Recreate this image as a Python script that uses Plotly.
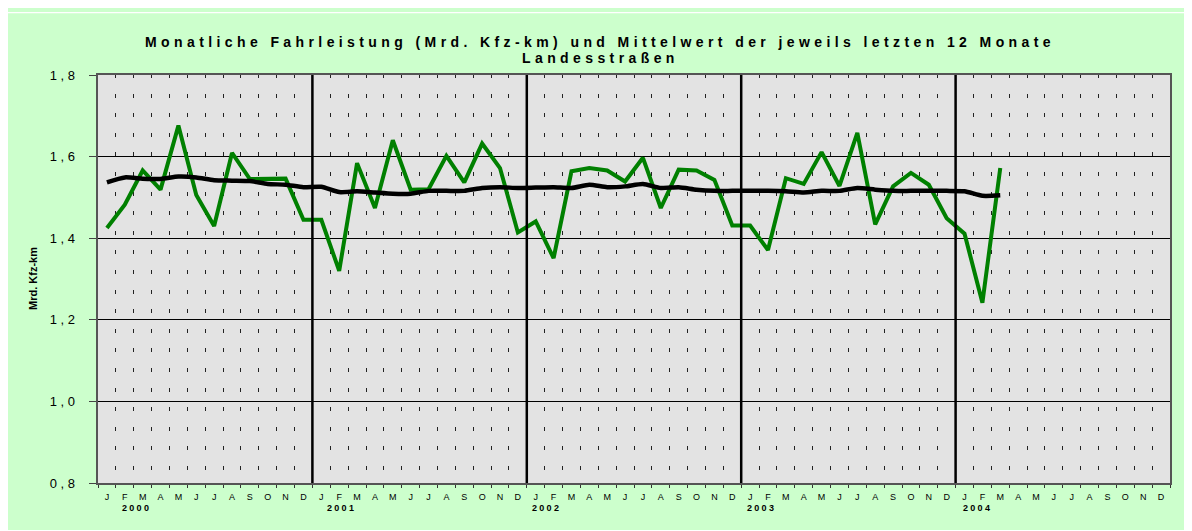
import plotly.graph_objects as go

# ---------------- data ----------------
month_letters = ["J", "F", "M", "A", "M", "J", "J", "A", "S", "O", "N", "D"]
years = ["2000", "2001", "2002", "2003", "2004"]

fahrleistung = [
    1.425, 1.482, 1.566, 1.519, 1.676, 1.506, 1.430, 1.609, 1.545, 1.545, 1.546, 1.445,
    1.445, 1.320, 1.584, 1.474, 1.640, 1.519, 1.520, 1.602, 1.537, 1.632, 1.572, 1.414,
    1.441, 1.351, 1.564, 1.572, 1.566, 1.539, 1.597, 1.474, 1.568, 1.566, 1.543, 1.431,
    1.431, 1.371, 1.547, 1.533, 1.611, 1.528, 1.658, 1.434, 1.527, 1.560, 1.531, 1.449,
    1.411, 1.242, 1.572,
]
mittelwert = [
    1.537, 1.549, 1.546, 1.545, 1.551, 1.549, 1.542, 1.541, 1.540, 1.533, 1.531, 1.525,
    1.526, 1.513, 1.515, 1.512, 1.509, 1.509, 1.516, 1.516, 1.516, 1.523, 1.525, 1.523,
    1.524, 1.525, 1.523, 1.531, 1.525, 1.527, 1.533, 1.523, 1.525, 1.519, 1.516, 1.516,
    1.516, 1.516, 1.515, 1.512, 1.516, 1.516, 1.523, 1.519, 1.516, 1.516, 1.516, 1.516,
    1.515, 1.504, 1.505,
]
y_tick_vals = [0.8, 1.0, 1.2, 1.4, 1.6, 1.8]
y_tick_text = ["0,8", "1,0", "1,2", "1,4", "1,6", "1,8"]

title_line1 = "Monatliche Fahrleistung (Mrd. Kfz-km) und Mittelwert der jeweils letzten 12 Monate"
title_line2 = "Landesstraßen"
y_title = "Mrd. Kfz-km"

# year label horizontal offsets (in month units from axis start)
year_label_x = [1.23, 12.71, 24.16, 36.23, 48.3]

# ---------------- figure ----------------
FONT = "Liberation Sans, Arial, sans-serif"
n_months = len(years) * 12
x_centers = [i + 0.5 for i in range(n_months)]
month_text = month_letters * len(years)


def spaced(t, px):
    return f'<span style="letter-spacing:{px}px">{t}</span>'


fig = go.Figure()
fig.add_trace(go.Scatter(
    x=x_centers[:len(fahrleistung)], y=fahrleistung, mode="lines",
    line=dict(color="#008000", width=4), showlegend=False, hoverinfo="skip"))
fig.add_trace(go.Scatter(
    x=x_centers[:len(mittelwert)], y=mittelwert, mode="lines",
    line=dict(color="#000000", width=4.5, shape="spline", smoothing=0.6),
    showlegend=False, hoverinfo="skip"))

# page body margin of the html page is 8px, so the figure is drawn at (8, 8)
OFF = 8
W, H = 1192 - OFF, 531 - OFF
ML, MR, MT, MB = 90, 22, 67, 48
PW, PH = W - ML - MR, H - MT - MB


def px_x(px):  # px measured in window coordinates
    return (px - OFF - ML) / PW


def px_y(py):
    return (H - MB - (py - OFF)) / PH


shapes = []
# year separator lines
for k in range(1, len(years)):
    shapes.append(dict(type="line", xref="x", yref="paper", x0=12 * k, x1=12 * k,
                       y0=0, y1=1, line=dict(color="#000000", width=2.5)))
# white page strips around the green chart area
shapes.append(dict(type="rect", xref="paper", yref="paper", x0=px_x(0), x1=px_x(1200),
                   y0=px_y(13.3), y1=px_y(12), fillcolor="white", line=dict(width=0), layer="below"))
shapes.append(dict(type="rect", xref="paper", yref="paper", x0=px_x(0), x1=px_x(1200),
                   y0=px_y(540), y1=px_y(530), fillcolor="white", line=dict(width=0), layer="below"))

annotations = [
    dict(text=spaced(f"<b>{title_line1}</b>", 4.4), xref="paper", yref="paper",
         x=px_x(600), y=px_y(41.5), xanchor="center", yanchor="middle", showarrow=False,
         font=dict(family=FONT, size=14, color="#000000")),
    dict(text=spaced(f"<b>{title_line2}</b>", 4.4), xref="paper", yref="paper",
         x=px_x(600), y=px_y(58.3), xanchor="center", yanchor="middle", showarrow=False,
         font=dict(family=FONT, size=14, color="#000000")),
    dict(text=f"<b>{y_title}</b>", xref="paper", yref="paper", x=px_x(33), y=0.5,
         xanchor="center", yanchor="middle", textangle=-90, showarrow=False,
         font=dict(family=FONT, size=11, color="#000000")),
]
for yr, xp in zip(years, year_label_x):
    annotations.append(dict(text=spaced(f"<b>{yr}</b>", 2.3), xref="x", yref="paper",
                            x=xp, y=px_y(508), xanchor="left", yanchor="middle",
                            showarrow=False,
                            font=dict(family=FONT, size=9, color="#000000")))

fig.update_layout(
    width=W, height=H,
    margin=dict(l=ML, r=MR, t=MT, b=MB, pad=0),
    paper_bgcolor="#CCFFCC",
    plot_bgcolor="#E3E3E3",
    font=dict(family=FONT, color="#000000"),
    shapes=shapes,
    annotations=annotations,
    xaxis=dict(
        range=[0, n_months], tickmode="array", tickvals=x_centers, ticktext=month_text,
        ticks="", showgrid=False, zeroline=False, ticklabelstandoff=4,
        tickfont=dict(family=FONT, size=9, color="#000000"),
        showline=True, linecolor="#555555", linewidth=2, mirror=True,
        minor=dict(tick0=0, dtick=1, ticks="outside", ticklen=3, tickcolor="#333333",
                   tickwidth=1, showgrid=True, gridcolor="#222222", gridwidth=1,
                   griddash="2.9px,15.6px,1.1px,0px"),
    ),
    yaxis=dict(
        range=[0.8, 1.8], tickmode="array", tickvals=y_tick_vals,
        ticktext=[spaced(t, 3.5) for t in y_tick_text],
        ticks="outside", ticklen=7, tickcolor="#444444", tickwidth=1,
        ticklabelstandoff=8,
        showgrid=True, gridcolor="#000000", gridwidth=1, zeroline=False,
        tickfont=dict(family=FONT, size=13, color="#000000"),
        showline=True, linecolor="#555555", linewidth=2, mirror=True,
    ),
)

fig.write_html("out.html")
